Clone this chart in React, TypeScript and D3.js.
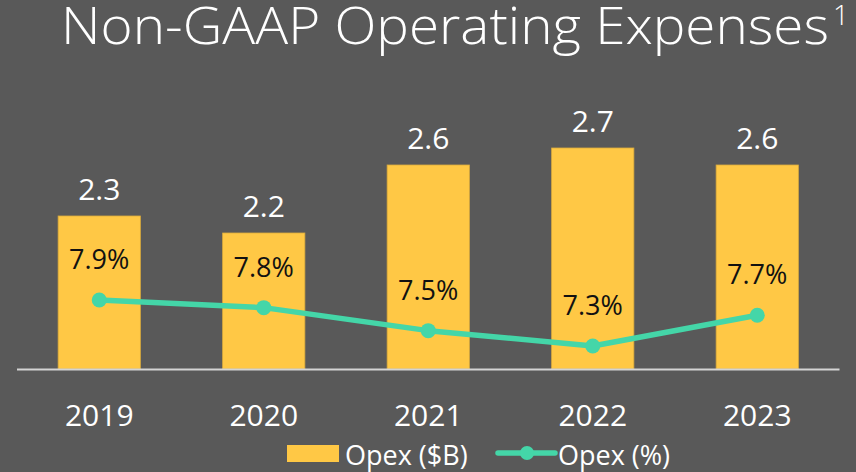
import React from "react";
import * as d3 from "d3";

const years = ["2019", "2020", "2021", "2022", "2023"];
const opexB = [2.3, 2.2, 2.6, 2.7, 2.6];
const opexPct = [7.9, 7.8, 7.5, 7.3, 7.7];
const title = "Non-GAAP Operating Expenses";
const legendLabels = ["Opex ($B)", "Opex (%)"];

const W = 856;
const H = 472;
const BG = "#595959";
const GOLD = "#FFC845";
const TEAL = "#44D6A8";
const FONT = "'Open Sans', 'Noto Sans', sans-serif";

export default function App() {
  const x = d3.scaleBand<string>().domain(years).range([17, 839.5]).paddingInner(0.5).paddingOuter(0.25);
  const baseY = 369;
  const yBar = d3.scaleLinear().domain([1.4, 3.0]).range([baseY, baseY - 1.6 * 170]);
  const yPct = d3.scaleLinear().domain([7.0, 8.0]).range([baseY, baseY - 76.7]);
  const cx = (d: string) => (x(d) as number) + x.bandwidth() / 2;

  const lineGen = d3
    .line<number>()
    .x((_, i) => cx(years[i]))
    .y((v) => yPct(v));

  return (
    <svg
      width={W}
      height={H}
      style={{ position: "absolute", left: 0, top: 0, display: "block" }}
      fontFamily={FONT}
    >
      <rect x={0} y={0} width={W} height={H} fill={BG} />
      <text x={61} y={43.5} fill="#fff" fontSize={51} fontWeight={300} textLength={768} lengthAdjust="spacingAndGlyphs">
        {title}
      </text>
      <text x={833} y={25} fill="#fff" fontSize={28} fontWeight={300}>
        1
      </text>

      {opexB.map((v, i) => (
        <rect
          key={"b" + i}
          x={x(years[i])}
          y={yBar(v)}
          width={x.bandwidth()}
          height={baseY - yBar(v)}
          fill={GOLD}
          stroke="#d9aa3c"
          strokeWidth={0.8}
        />
      ))}

      <line x1={x.range()[0]} x2={x.range()[1]} y1={baseY + 0.5} y2={baseY + 0.5} stroke="#d4d4d4" strokeWidth={2} />

      {opexB.map((v, i) => (
        <text key={"vl" + i} x={cx(years[i])} y={yBar(v) - 16} fill="#fff" fontSize={30} textAnchor="middle">
          {v.toFixed(1)}
        </text>
      ))}

      {opexPct.map((v, i) => (
        <text key={"pl" + i} x={cx(years[i])} y={yPct(v) - 31} fill="#111" fontSize={27} textAnchor="middle">
          {v.toFixed(1) + "%"}
        </text>
      ))}

      <path d={lineGen(opexPct) || ""} fill="none" stroke={TEAL} strokeWidth={5.5} strokeLinejoin="round" />
      {opexPct.map((v, i) => (
        <circle key={"pt" + i} cx={cx(years[i])} cy={yPct(v)} r={7.5} fill={TEAL} />
      ))}

      {years.map((d) => (
        <text key={"yr" + d} x={cx(d)} y={426} fill="#fff" fontSize={30} textAnchor="middle">
          {d}
        </text>
      ))}

      <rect x={287} y={445} width={52} height={17} fill={GOLD} />
      <text x={345} y={465} fill="#fff" fontSize={27}>
        {legendLabels[0]}
      </text>
      <line x1={498} x2={555} y1={453} y2={453} stroke={TEAL} strokeWidth={5.5} strokeLinecap="round" />
      <circle cx={527} cy={453} r={7} fill={TEAL} />
      <text x={558} y={465} fill="#fff" fontSize={27}>
        {legendLabels[1]}
      </text>
    </svg>
  );
}
